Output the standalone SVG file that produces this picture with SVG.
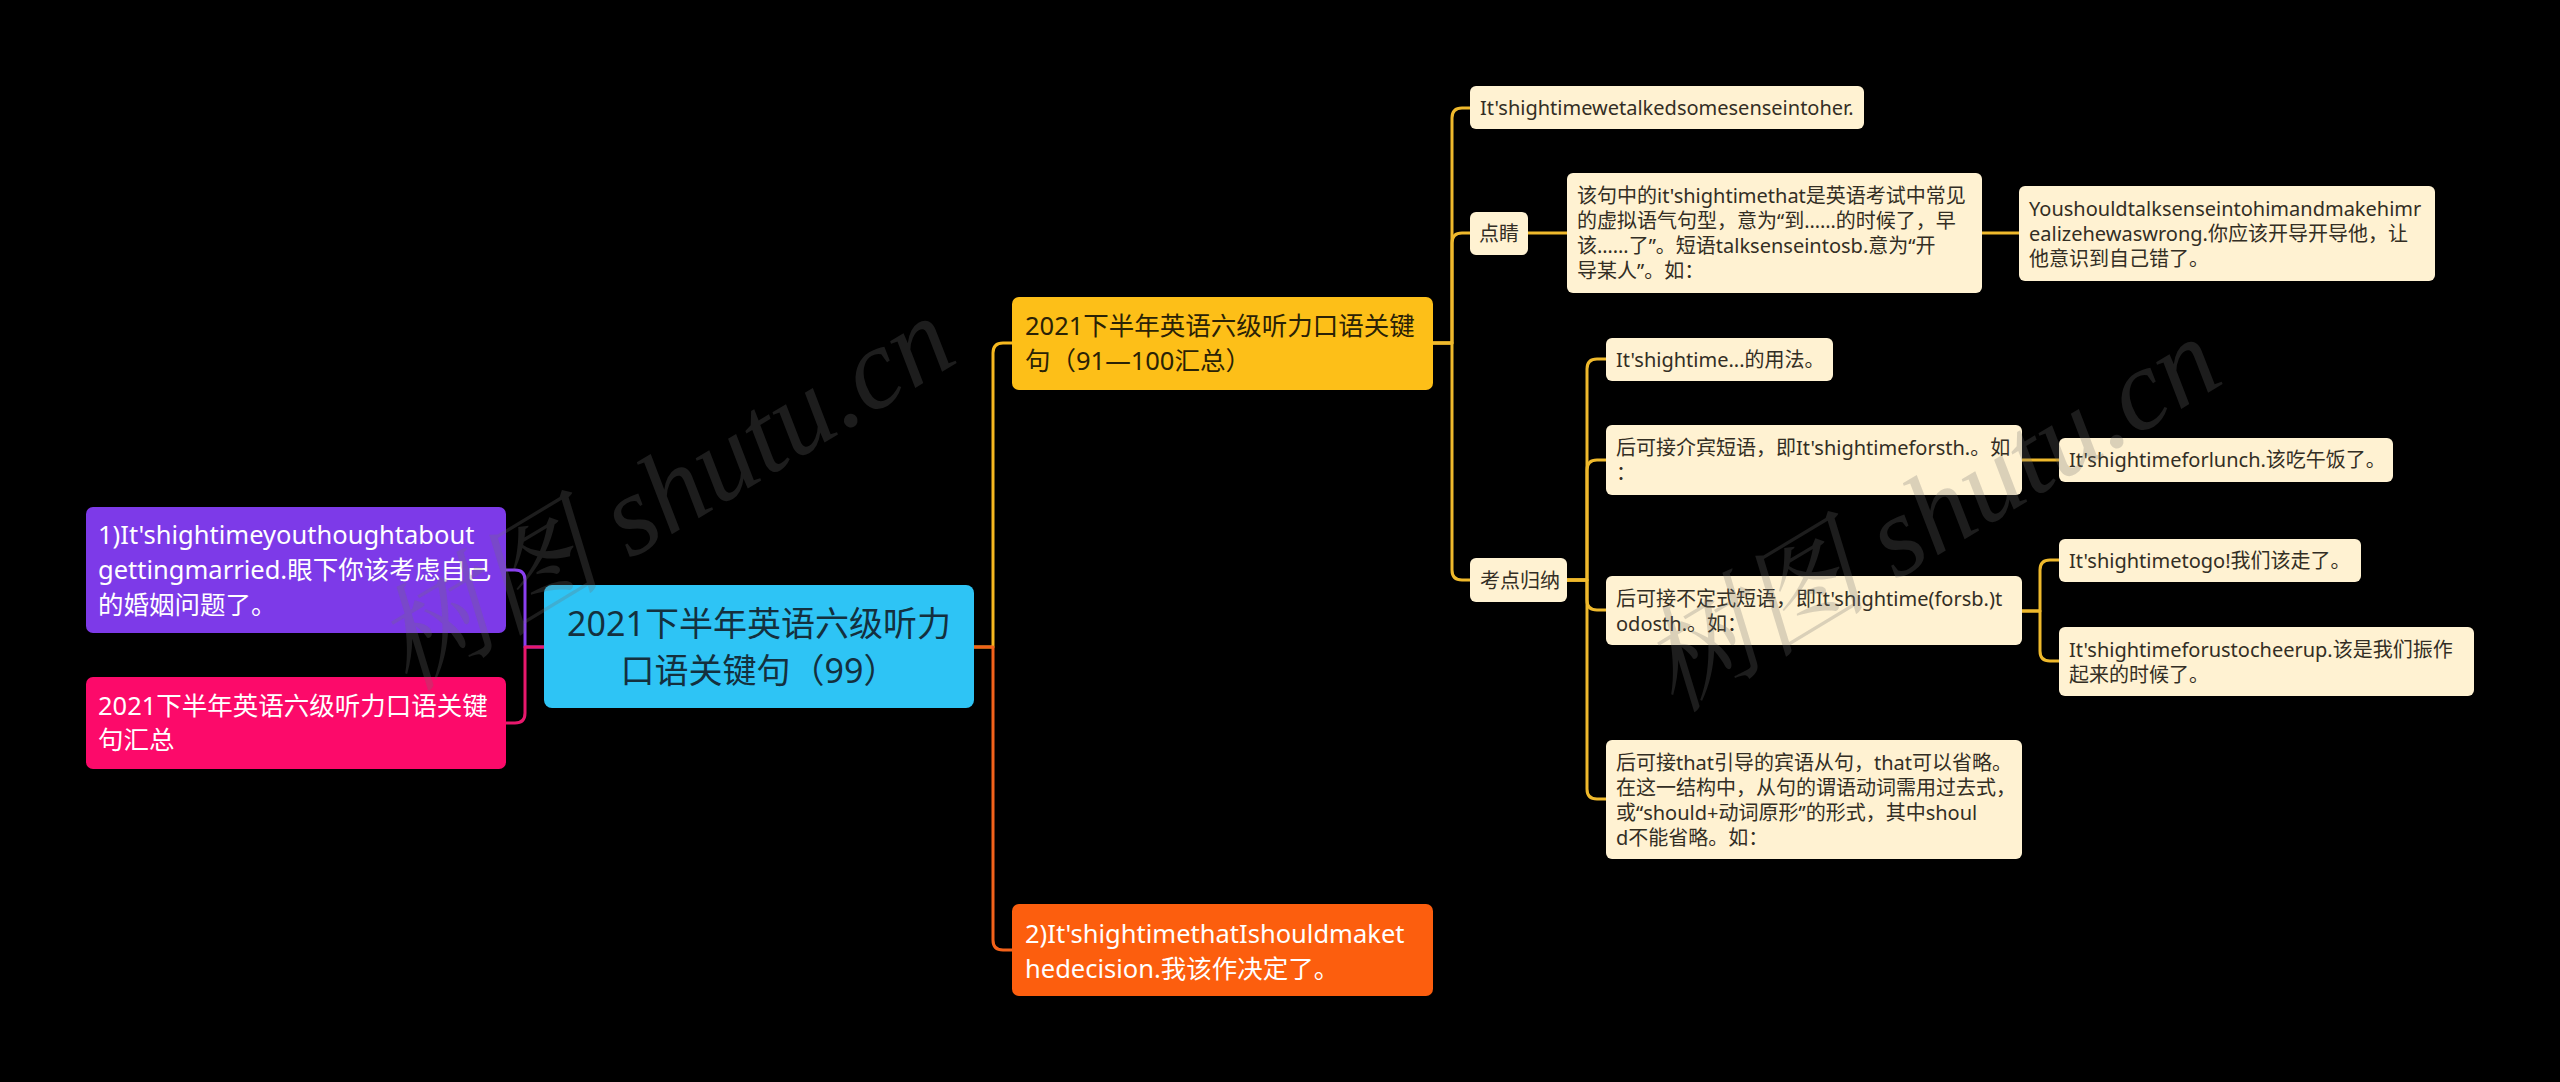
<svg xmlns="http://www.w3.org/2000/svg" width="2560" height="1082" viewBox="0 0 2560 1082">
<style>
text{font-family:"Noto Sans","Noto Sans CJK SC",sans-serif;}
.l1{font-size:25.5px;}
.lt{font-size:20px;fill:#332e24;}
.w{fill:#ffffff;}
.d{fill:#2a2206;}
.leaf{fill:#fff2d2;}
.c{fill:none;stroke-width:3;stroke-linecap:round;stroke-linejoin:round;}
.cy{stroke:#efb92c;}
.wm{font-family:"Liberation Serif","Noto Serif CJK SC","Noto Sans CJK SC",serif;font-style:italic;font-size:115px;fill:#707070;fill-opacity:0.26;}
</style>
<rect width="2560" height="1082" fill="#000000"/>
<g id="connectors">
<path class="c" stroke="#8a3ff0" d="M544,647 H525 V580 Q525,570 515,570 H506"/>
<path class="c" stroke="#e8186c" d="M544,647 H525 V713 Q525,723 515,723 H506"/>
<path class="c" stroke="#f6b81f" d="M974,647 H993 V353 Q993,343 1003,343 H1012"/>
<path class="c" stroke="#f3621a" d="M974,647 H993 V940 Q993,950 1003,950 H1012"/>
<path class="c cy" d="M1433,343 H1452 V118 Q1452,108 1462,108 H1470"/>
<path class="c cy" d="M1433,343 H1452 V243 Q1452,233 1462,233 H1470"/>
<path class="c cy" d="M1433,343 H1452 V570 Q1452,580 1462,580 H1470"/>
<path class="c cy" d="M1528,233 H1567"/>
<path class="c cy" d="M1982,233 H2019"/>
<path class="c cy" d="M1567,580 H1587 V369 Q1587,359 1597,359 H1606"/>
<path class="c cy" d="M1567,580 H1587 V470 Q1587,460 1597,460 H1606"/>
<path class="c cy" d="M1567,580 H1587 V600 Q1587,610 1597,610 H1606"/>
<path class="c cy" d="M1567,580 H1587 V789 Q1587,799 1597,799 H1606"/>
<path class="c cy" d="M2022,460 H2059"/>
<path class="c cy" d="M2022,611 H2040 V570 Q2040,560 2050,560 H2059"/>
<path class="c cy" d="M2022,611 H2040 V651 Q2040,661 2050,661 H2059"/>
</g>
<g id="root">
<rect x="544" y="585" width="430" height="123" rx="8" fill="#2ec4f5"/>
<text x="759" y="636" font-size="34" text-anchor="middle" fill="#14303e">2021下半年英语六级听力</text>
<text x="759" y="683" font-size="34" text-anchor="middle" fill="#14303e">口语关键句（99）</text>
</g>
<g id="n-purple">
<rect x="86" y="507" width="420" height="126" rx="7" fill="#7d3ae8"/>
<text class="l1 w" x="98" y="544">1)It'shightimeyouthoughtabout</text>
<text class="l1 w" x="98" y="579">gettingmarried.眼下你该考虑自己</text>
<text class="l1 w" x="98" y="614">的婚姻问题了。</text>
</g>
<g id="n-pink">
<rect x="86" y="677" width="420" height="92" rx="7" fill="#fc0a6a"/>
<text class="l1 w" x="98" y="715">2021下半年英语六级听力口语关键</text>
<text class="l1 w" x="98" y="749">句汇总</text>
</g>
<g id="n-yellow">
<rect x="1012" y="297" width="421" height="93" rx="7" fill="#fdbf18"/>
<text class="l1 d" x="1025" y="335">2021下半年英语六级听力口语关键</text>
<text class="l1 d" x="1025" y="370">句（91—100汇总）</text>
</g>
<g id="n-orange">
<rect x="1012" y="904" width="421" height="92" rx="7" fill="#fc5e0e"/>
<text class="l1 w" x="1025" y="943">2)It'shightimethatIshouldmaket</text>
<text class="l1 w" x="1025" y="978">hedecision.我该作决定了。</text>
</g>
<g id="n-wetalked">
<rect class="leaf" x="1470" y="86" width="394" height="43" rx="6"/>
<text class="lt" x="1480" y="115">It'shightimewetalkedsomesenseintoher.</text>
</g>
<g id="n-dianjing">
<rect class="leaf" x="1470" y="212" width="58" height="43" rx="6"/>
<text class="lt" x="1479" y="241">点睛</text>
</g>
<g id="n-gaiju">
<rect class="leaf" x="1567" y="173" width="415" height="120" rx="6"/>
<text class="lt" x="1577" y="203">该句中的it'shightimethat是英语考试中常见</text>
<text class="lt" x="1577" y="228">的虚拟语气句型，意为“到……的时候了，早</text>
<text class="lt" x="1577" y="253">该……了”。短语talksenseintosb.意为“开</text>
<text class="lt" x="1577" y="278">导某人”。如：</text>
</g>
<g id="n-youshould">
<rect class="leaf" x="2019" y="186" width="416" height="95" rx="6"/>
<text class="lt" x="2029" y="216">Youshouldtalksenseintohimandmakehimr</text>
<text class="lt" x="2029" y="241">ealizehewaswrong.你应该开导开导他，让</text>
<text class="lt" x="2029" y="266">他意识到自己错了。</text>
</g>
<g id="n-kaodian">
<rect class="leaf" x="1470" y="558" width="97" height="44" rx="6"/>
<text class="lt" x="1480" y="588">考点归纳</text>
</g>
<g id="n-yongfa">
<rect class="leaf" x="1606" y="338" width="227" height="43" rx="6"/>
<text class="lt" x="1616" y="367">It'shightime...的用法。</text>
</g>
<g id="n-jiebin">
<rect class="leaf" x="1606" y="425" width="416" height="70" rx="6"/>
<text class="lt" x="1616" y="455">后可接介宾短语，即It'shightimeforsth.。如</text>
<text class="lt" x="1616" y="480">：</text>
</g>
<g id="n-lunch">
<rect class="leaf" x="2059" y="438" width="334" height="44" rx="6"/>
<text class="lt" x="2069" y="467">It'shightimeforlunch.该吃午饭了。</text>
</g>
<g id="n-budingshi">
<rect class="leaf" x="1606" y="576" width="416" height="69" rx="6"/>
<text class="lt" x="1616" y="606">后可接不定式短语，即It'shightime(forsb.)t</text>
<text class="lt" x="1616" y="631">odosth.。如：</text>
</g>
<g id="n-togo">
<rect class="leaf" x="2059" y="539" width="302" height="43" rx="6"/>
<text class="lt" x="2069" y="568">It'shightimetogo!我们该走了。</text>
</g>
<g id="n-cheerup">
<rect class="leaf" x="2059" y="627" width="415" height="69" rx="6"/>
<text class="lt" x="2069" y="657">It'shightimeforustocheerup.该是我们振作</text>
<text class="lt" x="2069" y="682">起来的时候了。</text>
</g>
<g id="n-that">
<rect class="leaf" x="1606" y="740" width="416" height="119" rx="6"/>
<text class="lt" x="1616" y="770">后可接that引导的宾语从句，that可以省略。</text>
<text class="lt" x="1616" y="795">在这一结构中，从句的谓语动词需用过去式，</text>
<text class="lt" x="1616" y="820">或“should+动词原形”的形式，其中shoul</text>
<text class="lt" x="1616" y="845">d不能省略。如：</text>
</g>
<g id="watermark">
<text class="wm" x="665" y="532" text-anchor="middle" transform="rotate(-31 665 494)">树图 shutu.cn</text>
<text class="wm" x="1931" y="553" text-anchor="middle" transform="rotate(-31 1931 515)">树图 shutu.cn</text>
</g>
</svg>
